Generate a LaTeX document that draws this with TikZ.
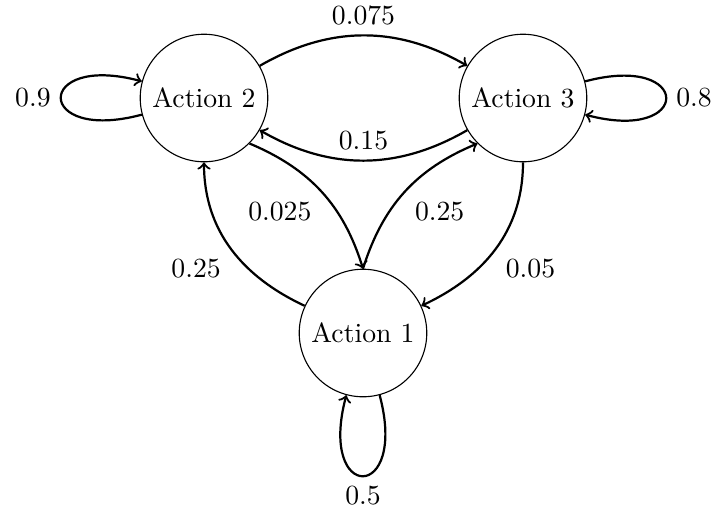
\documentclass[tikz,border=0pt]{standalone}
\usetikzlibrary{arrows}
\begin{document}
\begin{tikzpicture}[x=0.361pt, y=-0.361pt,
    state/.style={circle, draw},
    trans/.style={->, thick},
    every loop/.style={->, thick, looseness=8.6},
    lbl/.style={auto}]
  \useasboundingbox (0,0) rectangle (712,512);

  % states
  \node[state] (a2) at (204,98)  {Action 2};
  \node[state] (a3) at (523,98)  {Action 3};
  \node[state] (a1) at (363,333) {Action 1};

  % transitions between the two upper states
  \draw[trans] (a2) to[bend left=30] node[lbl] {0.075} (a3);
  \draw[trans] (a3) to[bend left=30] node[lbl, swap] {0.15} (a2);

  % transitions into and out of the lower state
  \draw[trans] (a2.south east) to[bend left=25] node[lbl, swap] {0.025} (a1.north);
  \draw[trans] (a1) to[out=155, in=-90] node[lbl] {0.25} (a2);
  \draw[trans] (a1.north) to[bend left=25] node[lbl, swap] {0.25} (a3.south west);
  \draw[trans] (a3) to[out=-90, in=25] node[lbl] {0.05} (a1);

  % self loops
  \draw (a2) edge[loop left]  node[left]  {0.9} (a2);
  \draw (a3) edge[loop right] node[right] {0.8} (a3);
  \draw (a1) edge[out=-75, in=-105, loop] node[below] {0.5} (a1);
\end{tikzpicture}
\end{document}
